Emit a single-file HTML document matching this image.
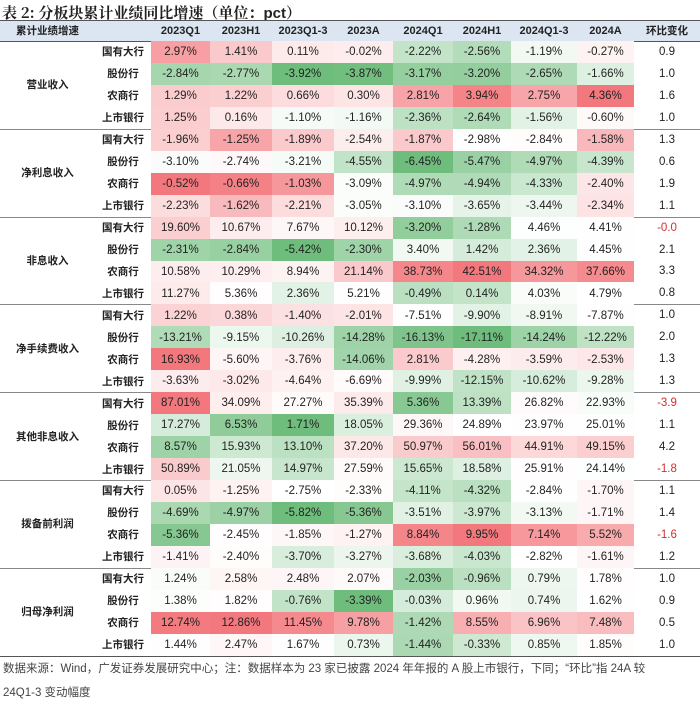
<!DOCTYPE html>
<html><head><meta charset="utf-8">
<style>
body{margin:0;width:700px;height:703px;background:#fff;position:relative;overflow:hidden;font-family:"Liberation Sans","Noto Sans CJK SC",sans-serif;color:#222}
.a{position:absolute;white-space:nowrap}
.c{position:absolute;display:flex;align-items:center;justify-content:center;font-size:11.5px}
.ln{position:absolute;left:0;width:700px}
</style></head><body>
<div class="a" style="left:2px;top:2px;font-size:15px;font-weight:bold;font-family:'Noto Serif CJK SC','Liberation Sans',serif">表 2: 分板块累计业绩同比增速（单位：<span style="font-family:'Liberation Sans',sans-serif">pct</span>）</div>
<div id="tbl"></div>
<div class="a" style="left:3px;top:657px;font-size:11.5px;color:#444;line-height:24px">数据来源：Wind，广发证券发展研究中心；注：数据样本为 23 家已披露 2024 年年报的 A 股上市银行，下同；“环比”指 24A 较<br>24Q1-3 变动幅度</div>
<script>
const periods=["2023Q1","2023H1","2023Q1-3","2023A","2024Q1","2024H1","2024Q1-3","2024A"];
const metrics=["营业收入","净利息收入","非息收入","净手续费收入","其他非息收入","拨备前利润","归母净利润"];
const banks=["国有大行","股份行","农商行","上市银行"];
const values=[
[[2.97,1.41,0.11,-0.02,-2.22,-2.56,-1.19,-0.27],[-2.84,-2.77,-3.92,-3.87,-3.17,-3.20,-2.65,-1.66],[1.29,1.22,0.66,0.30,2.81,3.94,2.75,4.36],[1.25,0.16,-1.10,-1.16,-2.36,-2.64,-1.56,-0.60]],
[[-1.96,-1.25,-1.89,-2.54,-1.87,-2.98,-2.84,-1.58],[-3.10,-2.74,-3.21,-4.55,-6.45,-5.47,-4.97,-4.39],[-0.52,-0.66,-1.03,-3.09,-4.97,-4.94,-4.33,-2.40],[-2.23,-1.62,-2.21,-3.05,-3.10,-3.65,-3.44,-2.34]],
[[19.60,10.67,7.67,10.12,-3.20,-1.28,4.46,4.41],[-2.31,-2.84,-5.42,-2.30,3.40,1.42,2.36,4.45],[10.58,10.29,8.94,21.14,38.73,42.51,34.32,37.66],[11.27,5.36,2.36,5.21,-0.49,0.14,4.03,4.79]],
[[1.22,0.38,-1.40,-2.01,-7.51,-9.90,-8.91,-7.87],[-13.21,-9.15,-10.26,-14.28,-16.13,-17.11,-14.24,-12.22],[16.93,-5.60,-3.76,-14.06,2.81,-4.28,-3.59,-2.53],[-3.63,-3.02,-4.64,-6.69,-9.99,-12.15,-10.62,-9.28]],
[[87.01,34.09,27.27,35.39,5.36,13.39,26.82,22.93],[17.27,6.53,1.71,18.05,29.36,24.89,23.97,25.01],[8.57,15.93,13.10,37.20,50.97,56.01,44.91,49.15],[50.89,21.05,14.97,27.59,15.65,18.58,25.91,24.14]],
[[0.05,-1.25,-2.75,-2.33,-4.11,-4.32,-2.84,-1.70],[-4.69,-4.97,-5.82,-5.36,-3.51,-3.97,-3.13,-1.71],[-5.36,-2.45,-1.85,-1.27,8.84,9.95,7.14,5.52],[-1.41,-2.40,-3.70,-3.27,-3.68,-4.03,-2.82,-1.61]],
[[1.24,2.58,2.48,2.07,-2.03,-0.96,0.79,1.78],[1.38,1.82,-0.76,-3.39,-0.03,0.96,0.74,1.62],[12.74,12.86,11.45,9.78,-1.42,8.55,6.96,7.48],[1.44,2.47,1.67,0.73,-1.44,-0.33,0.85,1.85]]];
const qoq=[[0.9,1.0,1.6,1.0],[1.3,0.6,1.9,1.1],[-0.0,2.1,3.3,0.8],[1.0,2.0,1.3,1.3],[-3.9,1.1,4.2,-1.8],[1.1,1.4,-1.6,1.2],[1.0,0.9,0.5,1.0]];
const edges=[151,210,272,334,393,453,511,577,634,700];
const T=document.getElementById('tbl');
function mk(cls,css,txt){const d=document.createElement('div');d.className=cls;d.style.cssText=css;if(txt!==undefined)d.textContent=txt;T.appendChild(d);return d;}
const top0=41,rh=21.95;
const hb=mk('a','left:0;top:20px;width:700px;height:21px;background:#dce6f2');


const hl=mk('c','left:0;top:20px;width:95px;height:21px;font-size:10.5px;font-weight:bold','累计业绩增速');


periods.forEach((p,i)=>{const h=mk('c',`left:${edges[i]}px;top:20px;width:${edges[i+1]-edges[i]}px;height:21px;font-weight:bold;font-size:11px`,p);

});
const hq=mk('c',`left:${edges[8]}px;top:20px;width:${700-edges[8]}px;height:21px;font-size:10.5px;font-weight:bold`,'环比变化');


const l1=mk('ln','top:20px;height:1px;background:#555');
const l2=mk('ln','top:41px;height:1px;background:#555');
function mix(c,t){return `rgb(${Math.round(255+(c[0]-255)*t)},${Math.round(255+(c[1]-255)*t)},${Math.round(255+(c[2]-255)*t)})`;}
const RED=[242,105,110],GRN=[95,182,110];
metrics.forEach((m,b)=>{
  const all=values[b].flat().slice().sort((x,y)=>x-y);
  const med=(all[15]+all[16])/2,mx=all[all.length-1],mn=all[0];
  const bt=top0+b*4*rh;
  const ml=mk('c',`left:0;top:${bt}px;width:95px;height:${4*rh}px;font-size:10.5px;font-weight:bold`,m);
  
  
  banks.forEach((bk,r)=>{
    const y=bt+r*rh;
    const bl=mk('c',`left:95px;top:${y}px;width:56px;height:${rh}px;font-size:10.5px;font-weight:bold`,bk);
    
    
    values[b][r].forEach((v,i)=>{
      let bg='#fff';
      if(v>med)bg=mix(RED,0.9*Math.pow(Math.min(1,(v-med)/(mx-med)),1.1));
      else if(v<med)bg=mix(GRN,0.9*Math.pow(Math.min(1,(med-v)/(med-mn)),1.1));
      const c=mk('c',`left:${edges[i]}px;top:${y}px;width:${edges[i+1]-edges[i]}px;height:${rh+0.5}px;background:${bg}`,v.toFixed(2)+'%');
      
      
    });
    const q=qoq[b][r];
    const qc=mk('c',`left:${edges[8]}px;top:${y}px;width:${700-edges[8]}px;height:${rh}px;color:${q<0||Object.is(q,-0)?'#d03030':'#222'}`,(Object.is(q,-0)?'-0.0':q.toFixed(1)));
    
    
  });
  const sl=mk('ln',`top:${bt+4*rh}px;height:1px;background:${b==6?'#555':'#888'}`);
  
  
});
</script>
</body></html>
